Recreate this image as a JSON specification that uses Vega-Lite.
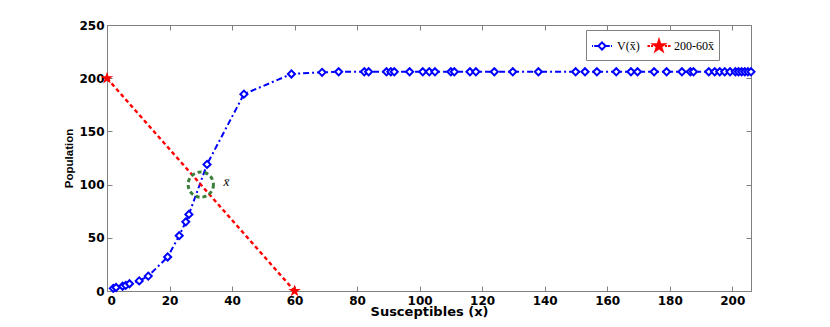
{
  "$schema": "https://vega.github.io/schema/vega-lite/v6.json",
  "width": 644,
  "height": 266,
  "autosize": {"type": "none"},
  "padding": {"left": 107, "top": 25, "right": 79, "bottom": 36},
  "background": "white",
  "config": {
    "view": {"stroke": "#808080", "strokeWidth": 1},
    "axis": {
      "domain": false,
      "tickColor": "#808080",
      "tickSize": 5,
      "offset": -5,
      "grid": false,
      "labelFont": "DejaVu Sans",
      "labelFontWeight": "bold",
      "labelFontSize": 12,
      "labelColor": "black",
      "titleColor": "black"
    }
  },
  "datasets": {
    "pts": [
      {"x": 2.0, "y": 2.5, "s": "V(x̄)"},
      {"x": 2.9, "y": 3.3, "s": "V(x̄)"},
      {"x": 5.0, "y": 4.5, "s": "V(x̄)"},
      {"x": 6.0, "y": 5.3, "s": "V(x̄)"},
      {"x": 7.2, "y": 6.8, "s": "V(x̄)"},
      {"x": 10.3, "y": 9.5, "s": "V(x̄)"},
      {"x": 13.2, "y": 14, "s": "V(x̄)"},
      {"x": 19.4, "y": 32, "s": "V(x̄)"},
      {"x": 23.1, "y": 52, "s": "V(x̄)"},
      {"x": 25.2, "y": 65, "s": "V(x̄)"},
      {"x": 26.2, "y": 72, "s": "V(x̄)"},
      {"x": 32, "y": 119, "s": "V(x̄)"},
      {"x": 43.8, "y": 185, "s": "V(x̄)"},
      {"x": 59, "y": 204, "s": "V(x̄)"},
      {"x": 68.8, "y": 205.5, "s": "V(x̄)"},
      {"x": 74.1, "y": 206, "s": "V(x̄)"},
      {"x": 82.3, "y": 206, "s": "V(x̄)"},
      {"x": 83.7, "y": 206, "s": "V(x̄)"},
      {"x": 89.4, "y": 206, "s": "V(x̄)"},
      {"x": 90.8, "y": 206, "s": "V(x̄)"},
      {"x": 91.9, "y": 206, "s": "V(x̄)"},
      {"x": 96.8, "y": 206, "s": "V(x̄)"},
      {"x": 101, "y": 206, "s": "V(x̄)"},
      {"x": 103.1, "y": 206, "s": "V(x̄)"},
      {"x": 104.9, "y": 206, "s": "V(x̄)"},
      {"x": 110, "y": 206, "s": "V(x̄)"},
      {"x": 111.1, "y": 206, "s": "V(x̄)"},
      {"x": 116.1, "y": 206, "s": "V(x̄)"},
      {"x": 118, "y": 206, "s": "V(x̄)"},
      {"x": 123.9, "y": 206, "s": "V(x̄)"},
      {"x": 129.8, "y": 206, "s": "V(x̄)"},
      {"x": 138, "y": 206, "s": "V(x̄)"},
      {"x": 149.9, "y": 206, "s": "V(x̄)"},
      {"x": 152.9, "y": 206, "s": "V(x̄)"},
      {"x": 156.7, "y": 206, "s": "V(x̄)"},
      {"x": 162.9, "y": 206, "s": "V(x̄)"},
      {"x": 167.6, "y": 206, "s": "V(x̄)"},
      {"x": 169.7, "y": 206, "s": "V(x̄)"},
      {"x": 175, "y": 206, "s": "V(x̄)"},
      {"x": 179, "y": 206, "s": "V(x̄)"},
      {"x": 183.9, "y": 206, "s": "V(x̄)"},
      {"x": 186.6, "y": 206, "s": "V(x̄)"},
      {"x": 187.6, "y": 206, "s": "V(x̄)"},
      {"x": 192.5, "y": 206, "s": "V(x̄)"},
      {"x": 194.4, "y": 206, "s": "V(x̄)"},
      {"x": 196, "y": 206, "s": "V(x̄)"},
      {"x": 197.6, "y": 206, "s": "V(x̄)"},
      {"x": 199.3, "y": 206, "s": "V(x̄)"},
      {"x": 201, "y": 206, "s": "V(x̄)"},
      {"x": 202, "y": 206, "s": "V(x̄)"},
      {"x": 203, "y": 206, "s": "V(x̄)"},
      {"x": 204, "y": 206, "s": "V(x̄)"},
      {"x": 205, "y": 206, "s": "V(x̄)"},
      {"x": 206, "y": 206, "s": "V(x̄)"},
      {"x": 0, "y": 200, "s": "200-60x̄"},
      {"x": 60, "y": 0, "s": "200-60x̄"}
    ],
    "eq": [{"x": 30, "y": 100, "label": "x̄", "lx": 37.3, "ly": 102}]
  },
  "layer": [
    {
      "data": {"name": "pts"},
      "transform": [{"filter": {"field": "s", "equal": "V(x̄)"}}],
      "mark": {"type": "line", "strokeWidth": 2, "strokeDash": [6, 3, 2, 3]},
      "encoding": {
        "x": {
          "field": "x", "type": "quantitative",
          "scale": {"domain": [0, 206], "nice": false, "zero": false},
          "axis": {
            "orient": "bottom",
            "values": [0, 20, 40, 60, 80, 100, 120, 140, 160, 180, 200],
            "labelPadding": 4,
            "title": "Susceptibles (x)",
            "titleFont": "DejaVu Sans",
            "titleFontWeight": "bold",
            "titleFontSize": 13,
            "titlePadding": -1
          }
        },
        "y": {
          "field": "y", "type": "quantitative",
          "scale": {"domain": [0, 250], "nice": false, "zero": true},
          "axis": {
            "orient": "left",
            "values": [0, 50, 100, 150, 200, 250],
            "labelPadding": 3,
            "title": "Population",
            "titleFont": "Liberation Sans",
            "titleFontWeight": "bold",
            "titleFontSize": 11.5,
            "titleX": -38,
            "titleY": 133,
            "titleAngle": 270,
            "titleAlign": "center",
            "titleBaseline": "bottom"
          }
        },
        "color": {
          "field": "s", "type": "nominal",
          "scale": {"domain": ["V(x̄)", "200-60x̄"], "range": ["#0000ff", "#ff0000"]},
          "legend": {
            "title": null,
            "orient": "none",
            "legendX": 479,
            "legendY": 5,
            "direction": "horizontal",
            "gridAlign": "none",
            "columnPadding": 3,
            "padding": 5,
            "strokeColor": "#808080",
            "fillColor": "white",
            "symbolSize": 400,
            "symbolStrokeWidth": 2,
            "labelFont": "Liberation Serif",
            "labelFontSize": 12,
            "labelColor": "black",
            "labelOffset": 4,
            "encode": {
              "symbols": {
                "update": {
                  "shape": {"signal": "datum.index === 0 ? 'M-1,0H-0.9M-0.78,0H-0.38M0.38,0H0.78M0.9,0H1M0,-0.36L0.36,0L0,0.36L-0.36,0Z' : 'M-1.15,0H-0.9M-0.8,0H-0.6M0.6,0H0.8M0.9,0H1.15M0,-0.6L0.135,-0.185L0.571,-0.185L0.218,0.071L0.353,0.485L0,0.229L-0.353,0.485L-0.218,0.071L-0.571,-0.185L-0.135,-0.185Z'"},
                  "fill": {"signal": "datum.index === 0 ? '#ffffff' : '#ff0000'"},
                  "fillOpacity": {"value": 1},
                  "strokeDash": {"value": [1, 0]},
                  "size": {"value": 400},
                  "strokeWidth": {"value": 2}
                }
              }
            }
          }
        }
      }
    },
    {
      "data": {"name": "pts"},
      "transform": [{"filter": {"field": "s", "equal": "200-60x̄"}}],
      "mark": {"type": "line", "strokeWidth": 2.5, "strokeDash": [4, 3]},
      "encoding": {
        "x": {"field": "x", "type": "quantitative", "axis": null},
        "y": {"field": "y", "type": "quantitative", "axis": null},
        "color": {"field": "s", "type": "nominal"}
      }
    },
    {
      "data": {"name": "eq"},
      "mark": {"type": "point", "shape": "circle", "size": 640, "filled": false, "stroke": "#3a803a", "strokeWidth": 3, "strokeDash": [4, 3], "opacity": 1},
      "encoding": {
        "x": {
          "field": "x", "type": "quantitative",
          "axis": {"orient": "top", "values": [0, 20, 40, 60, 80, 100, 120, 140, 160, 180, 200], "labels": false, "title": null}
        },
        "y": {
          "field": "y", "type": "quantitative",
          "axis": {"orient": "right", "values": [0, 50, 100, 150, 200, 250], "labels": false, "title": null}
        }
      }
    },
    {
      "data": {"name": "eq"},
      "mark": {"type": "text", "font": "Liberation Serif", "fontStyle": "italic", "fontSize": 13, "align": "left", "baseline": "middle", "color": "black"},
      "encoding": {
        "x": {"field": "lx", "type": "quantitative", "axis": null},
        "y": {"field": "ly", "type": "quantitative", "axis": null},
        "text": {"field": "label"}
      }
    },
    {
      "data": {"name": "pts"},
      "transform": [{"filter": {"field": "s", "equal": "V(x̄)"}}],
      "mark": {"type": "point", "shape": "diamond", "size": 50, "strokeWidth": 2, "opacity": 1, "filled": false, "stroke": "#0000ff", "fill": "#ffffff", "fillOpacity": 1},
      "encoding": {
        "x": {"field": "x", "type": "quantitative", "axis": null},
        "y": {"field": "y", "type": "quantitative", "axis": null}
      }
    },
    {
      "data": {"name": "pts"},
      "transform": [{"filter": {"field": "s", "equal": "200-60x̄"}}],
      "mark": {"type": "point", "shape": "M0,-1L0.2245,-0.309L0.951,-0.309L0.363,0.118L0.588,0.809L0,0.382L-0.588,0.809L-0.363,0.118L-0.951,-0.309L-0.2245,-0.309Z", "size": 170, "strokeWidth": 0, "opacity": 1, "filled": true, "color": "#ff0000"},
      "encoding": {
        "x": {"field": "x", "type": "quantitative", "axis": null},
        "y": {"field": "y", "type": "quantitative", "axis": null}
      }
    }
  ],
  "resolve": {"axis": {"x": "independent", "y": "independent"}}
}
